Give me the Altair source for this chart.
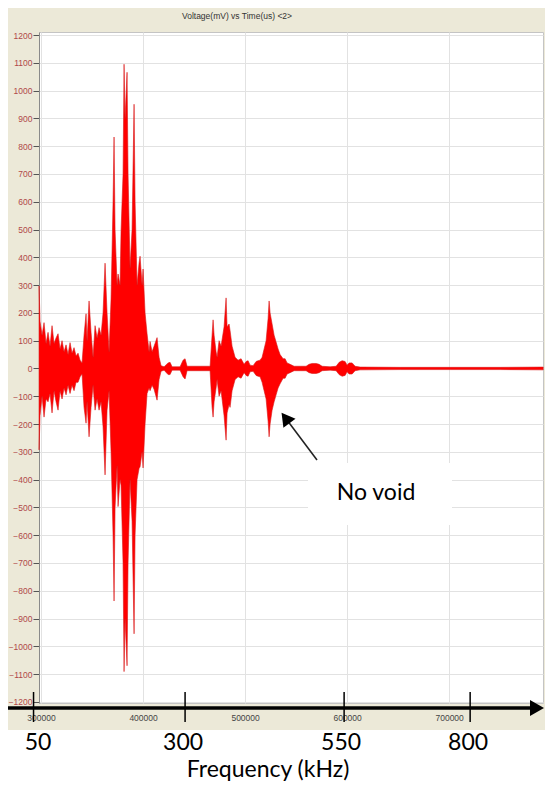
import altair as alt
import pandas as pd

# ---- signal envelope (time in us, voltage in mV) ----
t_us = [298040, 299020, 300980, 302940, 304900, 306860, 308820, 310780, 312750, 314710,
        316670, 318630, 320590, 322550, 324510, 326470, 328430, 330390, 332350, 334310,
        336270, 338240, 340200, 342160, 344120, 345100, 347060, 349020, 350980, 352940,
        354900, 356860, 358820, 360780, 362750, 364710, 366670, 368630, 370590, 371570,
        372550, 374510, 375490, 377450, 378430, 380390, 381370, 382350, 384310, 385290,
        387250, 389220, 391180, 392160, 394120, 396080, 397060, 399020, 400000, 401960,
        403920, 405880, 406860, 408820, 410780, 413730, 415690, 417650, 420590, 424510,
        426470, 428430, 436270, 439220, 441180, 443140, 455880, 465690, 467650, 468630,
        469610, 471570, 472550, 474510, 476470, 479410, 481370, 482350, 484310, 485290,
        487250, 490200, 493140, 496080, 499020, 500980, 502940, 504900, 507840, 510780,
        512750, 514710, 516670, 518630, 520590, 522550, 523530, 524510, 526470, 528430,
        530390, 532350, 534310, 537250, 539220, 541180, 544120, 548040, 553920, 559800,
        562750, 565690, 569610, 572550, 575490, 583330, 589220, 592160, 595100, 598040,
        600000, 601960, 604900, 607840, 612750, 651960, 700980, 750000, 792160]
upper_mv = [297, 170, 120, 165, 90, 130, 80, 154, 90, 110,
            125, 70, 100, 60, 85, 50, 93, 55, 75, 45,
            55, 30, 20, 120, 197, 100, 243, 130, 40, 154,
            110, 147, 120, 200, 379, 200, 60, 250, 600, 833,
            500, 300, 340, 300, 494, 700, 1095, 900, 1066, 700,
            361, 500, 951, 600, 300, 380, 404, 300, 358, 200,
            125, 60, 97, 60, 80, 111, 40, 10, 6, 20,
            22, 6, 6, 30, 35, 8, 8, 8, 120, 175,
            120, 60, 40, 100, 80, 150, 254, 150, 160, 136,
            80, 40, 30, 35, 15, 25, 28, 12, 10, 25,
            28, 30, 40, 70, 100, 180, 243, 200, 160, 120,
            95, 70, 50, 35, 35, 20, 15, 8, 8, 8,
            15, 18, 18, 15, 8, 6, 8, 22, 28, 25,
            12, 20, 20, 8, 5, 4, 4, 4, 5]
lower_mv = [-293, -170, -100, -175, -110, -120, -90, -160, -80, -120,
            -150, -80, -110, -70, -95, -60, -90, -60, -80, -50,
            -50, -30, -20, -140, -197, -120, -246, -140, -60, -150,
            -110, -150, -120, -210, -383, -150, -80, -300, -600, -837,
            -500, -350, -497, -400, -420, -700, -1091, -900, -1070, -700,
            -400, -550, -955, -600, -400, -360, -354, -300, -358, -200,
            -90, -70, -80, -60, -75, -114, -40, -10, -6, -22,
            -22, -6, -6, -30, -38, -8, -8, -8, -140, -175,
            -120, -70, -40, -100, -80, -170, -258, -160, -130, -140,
            -80, -40, -30, -35, -15, -25, -28, -12, -10, -25,
            -28, -30, -50, -80, -110, -190, -246, -200, -150, -120,
            -95, -70, -55, -35, -35, -20, -15, -8, -8, -8,
            -15, -18, -18, -15, -8, -6, -8, -22, -28, -25,
            -12, -20, -20, -8, -5, -4, -4, -4, -5]

y_ticks = list(range(-1200, 1201, 100))
x_ticks = [300000, 400000, 500000, 600000, 700000]

freq_labels = ["50", "300", "550", "800"]
freq_tick_us = [292650, 441180, 597060, 720590]
freq_label_us = [297000, 439200, 594100, 718600]

title_text = "Voltage(mV) vs Time(us) <2>"
note_text = "No void"
freq_title = "Frequency (kHz)"

XDOM = [298000, 792000]
YDOM = [-1204, 1211]

x_scale = alt.Scale(domain=XDOM, nice=False, zero=False)
y_scale = alt.Scale(domain=YDOM, nice=False, zero=False)


def x_enc(field="t"):
    return alt.X(f"{field}:Q", scale=x_scale,
                 axis=alt.Axis(values=x_ticks, title=None, format="d", grid=True,
                               labelColor="#444444", labelFontSize=8.5, labelFont="Liberation Sans",
                               tickSize=0, labelPadding=10, domain=False,
                               gridColor="#E2E2E2"))


one = pd.DataFrame({"a": [0]})

sig = pd.DataFrame({"t": t_us, "hi": upper_mv, "lo": lower_mv})
signal = alt.Chart(sig).mark_area(color="#FF0000", stroke="#D81818", strokeWidth=0.6,
                                  interpolate="linear").encode(
    x=x_enc(),
    y=alt.Y("hi:Q", scale=y_scale,
            axis=alt.Axis(values=y_ticks, title=None, grid=True, gridColor="#E2E2E2",
                          format="d",
                          labelColor="#B04848", labelFont="Liberation Sans", labelFontSize=8.5,
                          tickColor="#555555", tickSize=6, labelPadding=1,
                          domainColor="#8A8A8A")),
    y2="lo:Q",
)

# white strip under the beige window
white_strip = alt.Chart(one).mark_rect(color="white").encode(
    x=alt.value(-40), x2=alt.value(520), y=alt.value(698), y2=alt.value(760))

title = alt.Chart(one).mark_text(fontSize=8.5, font="Liberation Sans", color="#333333").encode(
    x=alt.value(198), y=alt.value(-16), text=alt.value(title_text))

# annotation
note_box = alt.Chart(one).mark_rect(color="white").encode(
    x=alt.value(269), x2=alt.value(413), y=alt.value(431), y2=alt.value(493))
note = alt.Chart(one).mark_text(fontSize=23, font="Lato", color="black").encode(
    x=alt.value(337), y=alt.value(461), text=alt.value(note_text))
arrow_line = alt.Chart(one).mark_rule(color="#222222", strokeWidth=1.6).encode(
    x=alt.value(278), y=alt.value(428), x2=alt.value(248), y2=alt.value(388))
arrow_head = alt.Chart(one).mark_point(shape="triangle-up", filled=True, size=230,
                                       color="black", angle=323, opacity=1).encode(
    x=alt.value(246.5), y=alt.value(386))

# hand-drawn frequency axis overlay
axis_line = alt.Chart(one).mark_rule(color="black", strokeWidth=3.5).encode(
    x=alt.value(-31), x2=alt.value(496), y=alt.value(676))
axis_head = alt.Chart(one).mark_point(shape="triangle-right", filled=True, size=260,
                                      color="black", opacity=1).encode(
    x=alt.value(498), y=alt.value(676))
ft = pd.DataFrame({"t": freq_tick_us})
f_ticks = alt.Chart(ft).mark_rule(color="black", strokeWidth=1.5).encode(
    x=x_enc(), y=alt.value(660), y2=alt.value(690))
fl = pd.DataFrame({"t": freq_label_us, "lab": freq_labels})
f_labels = alt.Chart(fl).mark_text(fontSize=23, font="Lato", color="black").encode(
    x=x_enc(), y=alt.value(711), text="lab:N")
f_title = alt.Chart(one).mark_text(fontSize=23, font="Lato", color="black",
                                   baseline="alphabetic").encode(
    x=alt.value(229), y=alt.value(745), text=alt.value(freq_title))

chart = alt.layer(
    signal, white_strip, title, note_box, note, arrow_line, arrow_head,
    axis_line, axis_head, f_ticks, f_labels, f_title
).properties(
    width=504, height=671,
    padding={"left": 31, "top": 24, "right": 2, "bottom": 78},
    autosize=alt.AutoSizeParams(type="none"),
    background="#ECE9D8",
).configure_view(fill="white", stroke="#C4C4C4")

chart.save("out.html", embed_options={"renderer": "svg", "actions": False})
